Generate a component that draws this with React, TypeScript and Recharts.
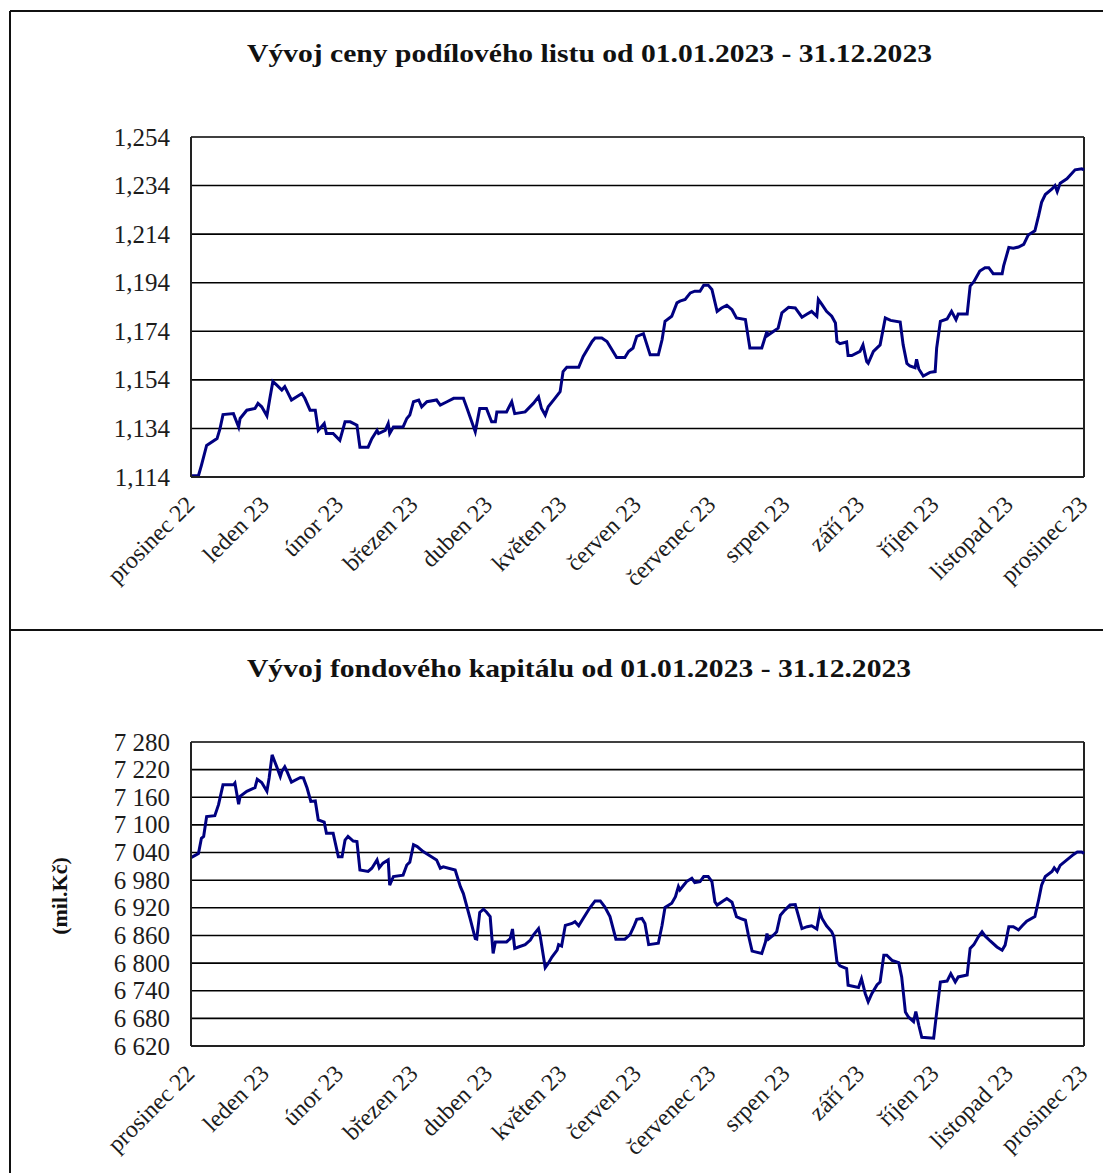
import React from 'react';
import { LineChart, Line, XAxis, YAxis, CartesianGrid, ReferenceLine } from 'recharts';

const monthLabels = ['prosinec 22', 'leden 23', 'únor 23', 'březen 23', 'duben 23', 'květen 23', 'červen 23', 'červenec 23', 'srpen 23', 'září 23', 'říjen 23', 'listopad 23', 'prosinec 23'];
const monthTicks = [0, 1, 2, 3, 4, 5, 6, 7, 8, 9, 10, 11, 12];

const priceTitle = 'Vývoj ceny podílového listu od 01.01.2023 - 31.12.2023';
const capitalTitle = 'Vývoj fondového kapitálu od 01.01.2023 - 31.12.2023';
const capitalUnit = '(mil.Kč)';

const priceTicks = [1.114, 1.134, 1.154, 1.174, 1.194, 1.214, 1.234, 1.254];
const capitalTicks = [6620, 6680, 6740, 6800, 6860, 6920, 6980, 7040, 7100, 7160, 7220, 7280];

// x position in months from the start (0 = prosinec 22, 12 = prosinec 23)
const priceX = [0, 0.10, 0.14, 0.21, 0.35, 0.39, 0.43, 0.57, 0.64, 0.66, 0.75, 0.86, 0.90, 0.95, 1.02, 1.06, 1.10, 1.15, 1.22, 1.26, 1.35, 1.49, 1.53, 1.60, 1.67, 1.71, 1.79, 1.82, 1.91, 2.00, 2.07, 2.14, 2.23, 2.27, 2.38, 2.43, 2.50, 2.52, 2.61, 2.65, 2.67, 2.72, 2.85, 2.90, 2.94, 2.99, 3.06, 3.10, 3.17, 3.30, 3.35, 3.44, 3.53, 3.66, 3.71, 3.82, 3.88, 3.97, 4.04, 4.09, 4.11, 4.24, 4.31, 4.35, 4.49, 4.60, 4.67, 4.71, 4.76, 4.80, 4.89, 4.96, 5.00, 5.05, 5.21, 5.27, 5.39, 5.43, 5.52, 5.59, 5.72, 5.83, 5.88, 5.94, 5.99, 6.08, 6.17, 6.28, 6.33, 6.37, 6.46, 6.53, 6.57, 6.64, 6.71, 6.77, 6.84, 6.89, 6.95, 7.00, 7.07, 7.13, 7.20, 7.27, 7.33, 7.45, 7.51, 7.67, 7.74, 7.75, 7.83, 7.89, 7.94, 8.03, 8.12, 8.21, 8.28, 8.34, 8.41, 8.43, 8.48, 8.54, 8.61, 8.66, 8.68, 8.72, 8.81, 8.83, 8.88, 8.99, 9.03, 9.08, 9.10, 9.17, 9.26, 9.33, 9.40, 9.53, 9.57, 9.62, 9.66, 9.73, 9.75, 9.78, 9.84, 9.93, 10.00, 10.02, 10.07, 10.16, 10.22, 10.28, 10.31, 10.43, 10.47, 10.52, 10.60, 10.67, 10.72, 10.78, 10.90, 10.92, 10.99, 11.05, 11.12, 11.19, 11.25, 11.34, 11.39, 11.43, 11.48, 11.57, 11.61, 11.64, 11.68, 11.77, 11.88, 11.97, 12.00];
const priceY = [1.1145, 1.1145, 1.1188, 1.1270, 1.1298, 1.1339, 1.1397, 1.1401, 1.1346, 1.1381, 1.1415, 1.1422, 1.1443, 1.1429, 1.1392, 1.1464, 1.1533, 1.1519, 1.1498, 1.1512, 1.1457, 1.1484, 1.1464, 1.1415, 1.1415, 1.1332, 1.1360, 1.1319, 1.1319, 1.1291, 1.1367, 1.1367, 1.1353, 1.1263, 1.1263, 1.1298, 1.1332, 1.1319, 1.1332, 1.1360, 1.1319, 1.1346, 1.1346, 1.1381, 1.1395, 1.1450, 1.1457, 1.1429, 1.1450, 1.1457, 1.1436, 1.1450, 1.1464, 1.1464, 1.1422, 1.1326, 1.1422, 1.1422, 1.1367, 1.1367, 1.1408, 1.1408, 1.1450, 1.1401, 1.1408, 1.1443, 1.1470, 1.1422, 1.1395, 1.1429, 1.1464, 1.1491, 1.1574, 1.1592, 1.1592, 1.1636, 1.1698, 1.1712, 1.1712, 1.1698, 1.1632, 1.1632, 1.1657, 1.1671, 1.1719, 1.1730, 1.1643, 1.1643, 1.1705, 1.1781, 1.1802, 1.1857, 1.1864, 1.1871, 1.1898, 1.1905, 1.1905, 1.1930, 1.1930, 1.1912, 1.1822, 1.1836, 1.1847, 1.1829, 1.1795, 1.1788, 1.1671, 1.1671, 1.1740, 1.1723, 1.1740, 1.1753, 1.1816, 1.1839, 1.1836, 1.1798, 1.1811, 1.1822, 1.1802, 1.1871, 1.1850, 1.1822, 1.1802, 1.1774, 1.1698, 1.1689, 1.1696, 1.1640, 1.1640, 1.1657, 1.1684, 1.1615, 1.1608, 1.1657, 1.1684, 1.1795, 1.1785, 1.1778, 1.1684, 1.1608, 1.1597, 1.1590, 1.1625, 1.1585, 1.1556, 1.1571, 1.1574, 1.1671, 1.1781, 1.1791, 1.1822, 1.1788, 1.1811, 1.1811, 1.1926, 1.1944, 1.1988, 1.2002, 1.2002, 1.1977, 1.1977, 1.2009, 1.2085, 1.2082, 1.2087, 1.2098, 1.2136, 1.2154, 1.2216, 1.2271, 1.2303, 1.2326, 1.2340, 1.2315, 1.2350, 1.2368, 1.2405, 1.2409, 1.2405];

const capitalX = [0, 0.10, 0.14, 0.17, 0.21, 0.32, 0.37, 0.43, 0.57, 0.59, 0.64, 0.66, 0.75, 0.86, 0.89, 0.95, 1.02, 1.05, 1.09, 1.15, 1.20, 1.22, 1.26, 1.29, 1.35, 1.47, 1.51, 1.56, 1.61, 1.67, 1.71, 1.79, 1.82, 1.91, 1.98, 2.03, 2.07, 2.11, 2.18, 2.23, 2.27, 2.38, 2.43, 2.50, 2.53, 2.58, 2.65, 2.67, 2.72, 2.85, 2.90, 2.94, 2.99, 3.04, 3.12, 3.30, 3.35, 3.39, 3.55, 3.62, 3.66, 3.75, 3.82, 3.84, 3.88, 3.93, 3.97, 4.02, 4.06, 4.09, 4.24, 4.29, 4.32, 4.35, 4.40, 4.49, 4.56, 4.60, 4.67, 4.69, 4.76, 4.80, 4.85, 4.92, 4.94, 4.98, 5.03, 5.12, 5.16, 5.21, 5.27, 5.36, 5.43, 5.50, 5.56, 5.63, 5.71, 5.83, 5.90, 5.95, 5.99, 6.06, 6.10, 6.15, 6.28, 6.33, 6.37, 6.46, 6.51, 6.55, 6.57, 6.62, 6.66, 6.73, 6.77, 6.84, 6.89, 6.95, 7.00, 7.04, 7.07, 7.15, 7.20, 7.27, 7.33, 7.38, 7.45, 7.49, 7.54, 7.67, 7.72, 7.74, 7.76, 7.83, 7.87, 7.92, 7.98, 8.05, 8.12, 8.16, 8.21, 8.28, 8.34, 8.41, 8.45, 8.48, 8.54, 8.61, 8.64, 8.68, 8.72, 8.81, 8.83, 8.97, 9.01, 9.06, 9.10, 9.15, 9.22, 9.26, 9.31, 9.35, 9.42, 9.51, 9.55, 9.60, 9.64, 9.71, 9.74, 9.78, 9.82, 9.98, 10.01, 10.07, 10.16, 10.21, 10.27, 10.31, 10.43, 10.47, 10.52, 10.58, 10.63, 10.67, 10.74, 10.83, 10.90, 10.94, 10.99, 11.05, 11.12, 11.17, 11.23, 11.34, 11.39, 11.43, 11.48, 11.57, 11.60, 11.64, 11.68, 11.77, 11.86, 11.91, 11.97, 12.00];
const capitalY = [7029, 7038, 7071, 7075, 7118, 7120, 7144, 7187, 7187, 7191, 7145, 7162, 7173, 7181, 7199, 7192, 7173, 7202, 7252, 7227, 7205, 7216, 7226, 7216, 7193, 7203, 7202, 7180, 7151, 7152, 7111, 7106, 7082, 7082, 7031, 7031, 7067, 7075, 7065, 7064, 7002, 6999, 7006, 7024, 7007, 7017, 7024, 6969, 6988, 6991, 7013, 7019, 7057, 7053, 7042, 7024, 7006, 7009, 7002, 6966, 6951, 6897, 6853, 6852, 6910, 6917, 6911, 6901, 6821, 6846, 6846, 6853, 6874, 6832, 6835, 6840, 6850, 6861, 6875, 6861, 6790, 6799, 6813, 6828, 6840, 6837, 6882, 6886, 6890, 6881, 6897, 6920, 6935, 6935, 6922, 6901, 6852, 6852, 6862, 6879, 6895, 6897, 6886, 6840, 6843, 6882, 6921, 6930, 6944, 6966, 6959, 6969, 6977, 6984, 6975, 6977, 6988, 6988, 6977, 6933, 6926, 6935, 6940, 6932, 6901, 6897, 6893, 6861, 6826, 6821, 6846, 6864, 6852, 6861, 6868, 6904, 6915, 6926, 6927, 6904, 6875, 6879, 6881, 6874, 6911, 6897, 6881, 6868, 6857, 6803, 6794, 6788, 6752, 6747, 6766, 6734, 6716, 6734, 6753, 6759, 6817, 6817, 6806, 6801, 6770, 6694, 6683, 6673, 6695, 6665, 6639, 6637, 6679, 6759, 6761, 6777, 6759, 6770, 6774, 6832, 6840, 6857, 6868, 6859, 6848, 6835, 6828, 6839, 6879, 6879, 6872, 6881, 6891, 6901, 6937, 6969, 6988, 6999, 7007, 6999, 7012, 7024, 7036, 7041, 7041, 7038];

const priceData = priceX.map((m, i) => ({ m, v: priceY[i] }));
const capitalData = capitalX.map((m, i) => ({ m, v: capitalY[i] }));

const FONT = '"Liberation Serif", "Times New Roman", serif';
const TEXT = '#1c1c1c';

const fmtPrice = (v: number) => v.toFixed(3).replace('.', ',');
const fmtCapital = (v: number) => `${Math.floor(v / 1000)} ${String(Math.round(v) % 1000).padStart(3, '0')}`;

const MonthTick = (props: any) => {
  const { x, y, payload } = props;
  const px = x + 5;
  const py = y + 29;
  return (
    <text x={px} y={py} transform={`rotate(-45, ${px}, ${py})`} textAnchor="end" fontSize={24} fontFamily={FONT} fill={TEXT}>
      {monthLabels[payload.value]}
    </text>
  );
};

const ValueTick = (fmt: (v: number) => string) => (props: any) => {
  const { x, y, payload } = props;
  return (
    <text x={x} y={y} dy={8.5} textAnchor="end" fontSize={25} fontFamily={FONT} fill={TEXT}>
      {fmt(payload.value)}
    </text>
  );
};

const PriceTick = ValueTick(fmtPrice);
const CapitalTick = ValueTick(fmtCapital);

export default function App() {
  return (
    <div style={{ position: 'absolute', left: 0, top: 0, width: 1103, height: 1173, background: '#fff', fontFamily: FONT, overflow: 'hidden' }}>
      <div style={{ position: 'absolute', left: 0, top: 0 }}>
        <LineChart width={1103} height={620} data={priceData} margin={{ top: 137, right: 19, bottom: 43, left: 111 }}>
          <CartesianGrid horizontal vertical={false} stroke="#000" strokeWidth={1.6} />
          <XAxis dataKey="m" type="number" domain={[0, 12]} ticks={monthTicks} interval={0} tick={<MonthTick />} tickLine={false} tickSize={0} tickMargin={0} height={100} axisLine={{ stroke: '#222', strokeWidth: 2 }} />
          <YAxis type="number" domain={[1.114, 1.254]} ticks={priceTicks} interval={0} tick={<PriceTick />} tickLine={false} tickSize={0} tickMargin={21} width={80} axisLine={{ stroke: '#222', strokeWidth: 2 }} allowDataOverflow />
          <ReferenceLine x={12} stroke="#222" strokeWidth={2} />
          <Line type="linear" dataKey="v" stroke="#000080" strokeWidth={3} dot={false} isAnimationActive={false} />
        </LineChart>
      </div>
      <div style={{ position: 'absolute', left: 0, top: 630 }}>
        <LineChart width={1103} height={543} data={capitalData} margin={{ top: 112, right: 19, bottom: 27, left: 111 }}>
          <CartesianGrid horizontal vertical={false} stroke="#000" strokeWidth={1.6} />
          <XAxis dataKey="m" type="number" domain={[0, 12]} ticks={monthTicks} interval={0} tick={<MonthTick />} tickLine={false} tickSize={0} tickMargin={0} height={100} axisLine={{ stroke: '#222', strokeWidth: 2 }} />
          <YAxis type="number" domain={[6620, 7280]} ticks={capitalTicks} interval={0} tick={<CapitalTick />} tickLine={false} tickSize={0} tickMargin={21} width={80} axisLine={{ stroke: '#222', strokeWidth: 2 }} allowDataOverflow />
          <ReferenceLine x={12} stroke="#222" strokeWidth={2} />
          <Line type="linear" dataKey="v" stroke="#000080" strokeWidth={3} dot={false} isAnimationActive={false} />
        </LineChart>
      </div>
      <svg width={1103} height={1173} style={{ position: 'absolute', left: 0, top: 0, pointerEvents: 'none' }}>
        <line x1={10} y1={11} x2={1103} y2={11} stroke="#111" strokeWidth={2} />
        <line x1={10} y1={11} x2={10} y2={1173} stroke="#111" strokeWidth={2} />
        <line x1={10} y1={630} x2={1103} y2={630} stroke="#111" strokeWidth={2} />
        <text x={247} y={62} fontSize={25} fontWeight="bold" fontFamily={FONT} fill="#111" textLength={685} lengthAdjust="spacingAndGlyphs">{priceTitle}</text>
        <text x={247} y={677} fontSize={25} fontWeight="bold" fontFamily={FONT} fill="#111" textLength={664} lengthAdjust="spacingAndGlyphs">{capitalTitle}</text>
        <text x={67} y={896} transform="rotate(-90, 67, 896)" textAnchor="middle" fontSize={22} fontWeight="bold" fontFamily={FONT} fill="#111">{capitalUnit}</text>
      </svg>
    </div>
  );
}
